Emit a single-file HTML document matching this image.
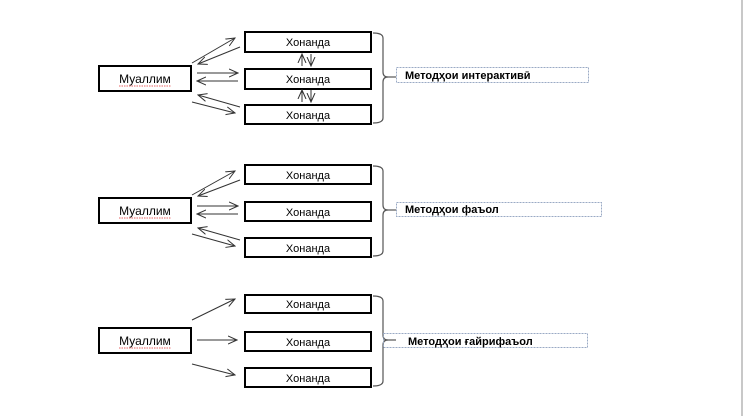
<!DOCTYPE html>
<html><head><meta charset="utf-8"><style>
html,body{margin:0;padding:0;background:#fff;}
svg{display:block;}
text{font-family:"Liberation Sans","DejaVu Sans",sans-serif;}
</style></head><body>
<svg width="743" height="416" viewBox="0 0 743 416" xmlns="http://www.w3.org/2000/svg">
<defs>
<marker id="a" markerWidth="10" markerHeight="10" refX="9" refY="5" orient="auto" markerUnits="userSpaceOnUse">
<path d="M0,1 L9,5 L0,9" fill="none" stroke="#333" stroke-width="1"/>
</marker>
</defs>
<rect x="741" y="0" width="2" height="416" fill="#c8c8c8"/>

<g stroke="#000" stroke-width="2" fill="#fff">
<rect x="99" y="66" width="92" height="25"/>
<rect x="245" y="32" width="126" height="20"/>
<rect x="245" y="69" width="126" height="20"/>
<rect x="245" y="105" width="126" height="19"/>
<rect x="99" y="198" width="92" height="25"/>
<rect x="245" y="165" width="126" height="19"/>
<rect x="245" y="202" width="126" height="19"/>
<rect x="245" y="238" width="126" height="19"/>
<rect x="99" y="328" width="92" height="25"/>
<rect x="245" y="295" width="126" height="18"/>
<rect x="245" y="332" width="126" height="19"/>
<rect x="245" y="368" width="126" height="19"/>
</g>

<g stroke="#333" stroke-width="1" fill="none" marker-end="url(#a)">
<line x1="192" y1="63" x2="235" y2="38"/>
<line x1="240" y1="47" x2="198" y2="64"/>
<line x1="197" y1="73" x2="238" y2="73"/>
<line x1="238" y1="81" x2="197" y2="81"/>
<line x1="240" y1="107" x2="198" y2="95"/>
<line x1="192" y1="102" x2="235" y2="113"/>
<line x1="302" y1="66" x2="302" y2="54"/>
<line x1="311" y1="54" x2="311" y2="66"/>
<line x1="302" y1="102" x2="302" y2="90"/>
<line x1="311" y1="90" x2="311" y2="102"/>
<line x1="192" y1="195" x2="235" y2="171"/>
<line x1="240" y1="180" x2="198" y2="196"/>
<line x1="197" y1="206" x2="238" y2="206"/>
<line x1="238" y1="214" x2="197" y2="214"/>
<line x1="240" y1="240" x2="198" y2="228"/>
<line x1="192" y1="234" x2="235" y2="246"/>
<line x1="192" y1="320" x2="235" y2="299"/>
<line x1="197" y1="340" x2="237" y2="340"/>
<line x1="192" y1="364" x2="235" y2="375"/>
</g>

<g stroke="#555" stroke-width="1.2" fill="none">
<path d="M373,33 Q383,33 383,38 L383,72 Q383,77 388,77 Q383,77 383,82 L383,118 Q383,123 373,123"/>
<line x1="388" y1="77" x2="396" y2="77"/>
<path d="M373,166 Q383,166 383,171 L383,205 Q383,210 388,210 Q383,210 383,215 L383,251 Q383,256 373,256"/>
<line x1="388" y1="210" x2="396" y2="210"/>
<path d="M373,296 Q383,296 383,301 L383,335 Q383,340 388,340 Q383,340 383,345 L383,381 Q383,386 373,386"/>
<line x1="388" y1="340" x2="396" y2="340"/>
</g>

<g stroke="#9aaac4" stroke-width="1" stroke-dasharray="2,1" fill="none">
<rect x="396.5" y="67.5" width="192" height="15"/>
<rect x="396.5" y="202.5" width="205" height="14"/>
<rect x="383.5" y="333.5" width="204" height="14"/>
</g>

<g font-size="11" text-anchor="middle" fill="#000">
<text x="145" y="83" font-size="12">Муаллим</text>
<text x="145" y="215" font-size="12">Муаллим</text>
<text x="145" y="345" font-size="12">Муаллим</text>
<text x="308" y="46">Хонанда</text>
<text x="308" y="83">Хонанда</text>
<text x="308" y="119">Хонанда</text>
<text x="308" y="179">Хонанда</text>
<text x="308" y="216">Хонанда</text>
<text x="308" y="252">Хонанда</text>
<text x="308" y="308">Хонанда</text>
<text x="308" y="346">Хонанда</text>
<text x="308" y="382">Хонанда</text>
</g>
<g stroke="#e03030" stroke-width="0.8" stroke-dasharray="1.5,1" fill="none">
<line x1="119" y1="86" x2="171" y2="86"/>
<line x1="119" y1="218" x2="171" y2="218"/>
<line x1="119" y1="348" x2="171" y2="348"/>
</g>
<g font-size="11" font-weight="bold" fill="#000">
<text x="405" y="79">Методҳои интерактивӣ</text>
<text x="405" y="213">Методҳои фаъол</text>
<text x="408" y="345">Методҳои ғайрифаъол</text>
</g>
</svg>
</body></html>
